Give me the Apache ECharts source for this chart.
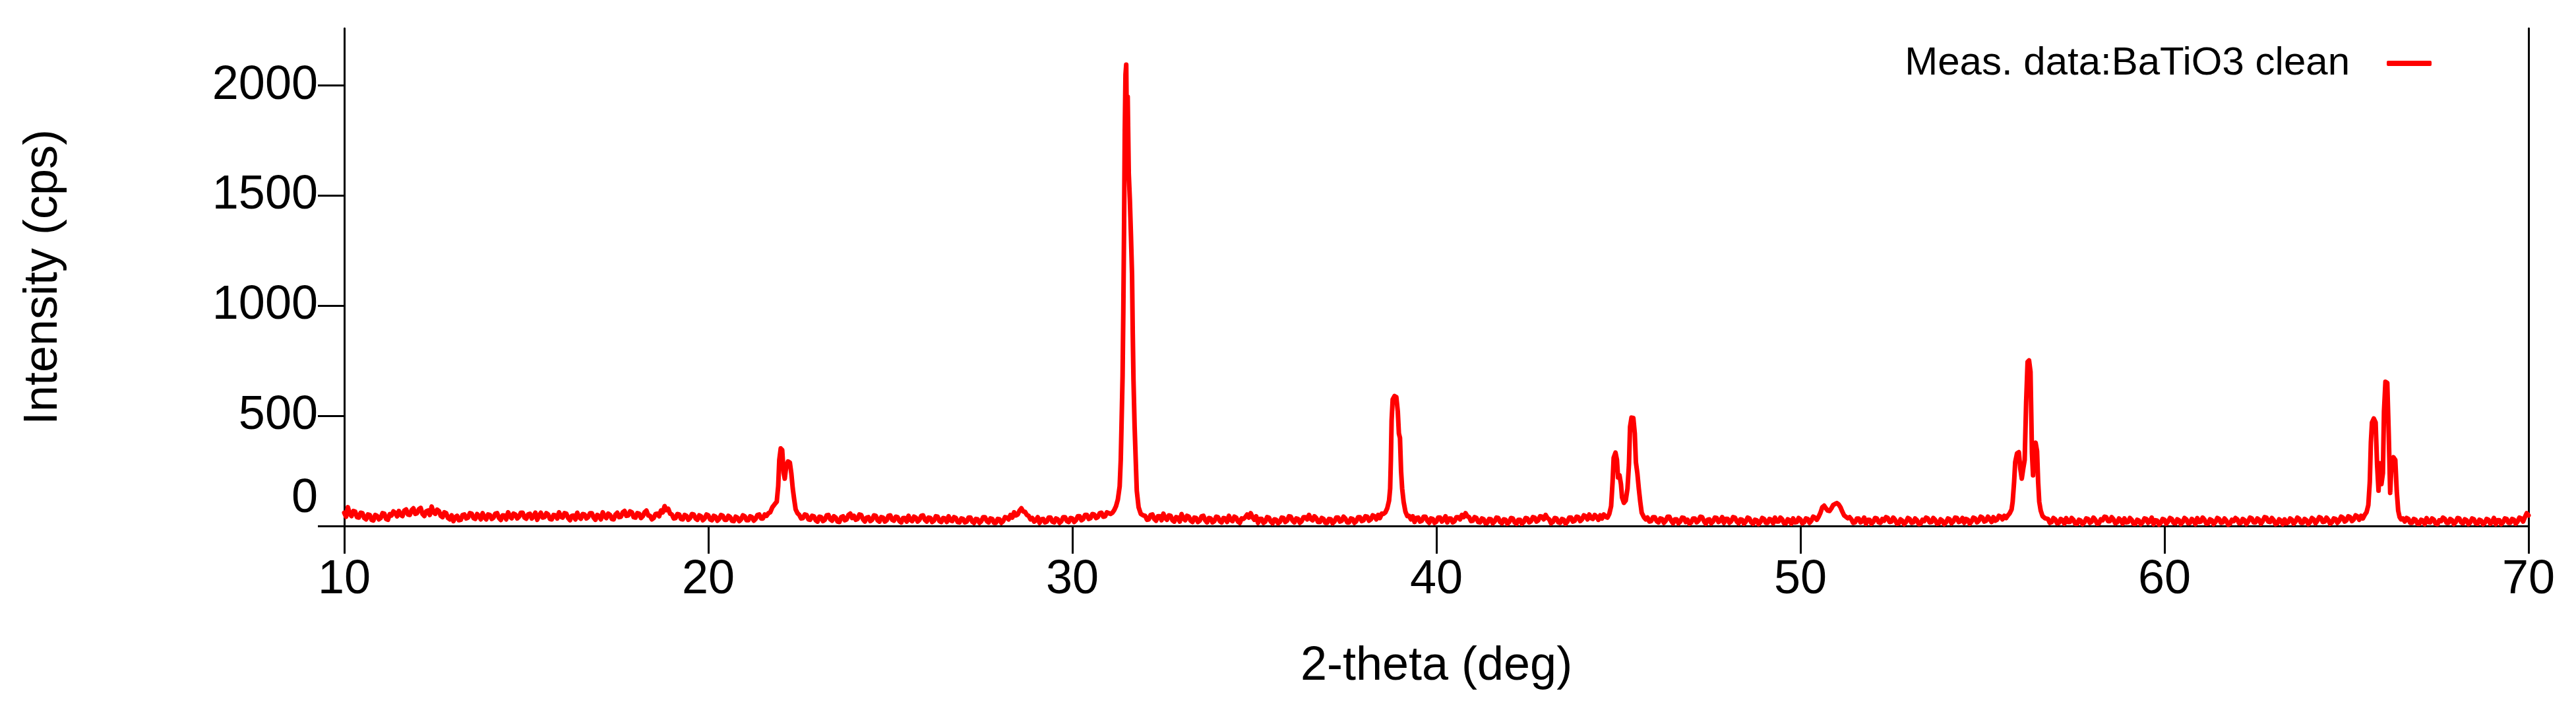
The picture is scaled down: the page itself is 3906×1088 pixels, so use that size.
<!DOCTYPE html>
<html>
<head>
<meta charset="utf-8">
<script src="https://cdn.jsdelivr.net/npm/echarts@6/dist/echarts.min.js"></script>
<style>
html,body{margin:0;padding:0;background:#fff;}
#chart{width:3906px;height:1088px;}
</style>
</head>
<body>
<div id="chart"></div>
<script>
// ---- Data: [2-theta (deg), intensity (cps)] ----
const seriesName = 'Meas. data:BaTiO3 clean';
const xTicks = [10, 20, 30, 40, 50, 60, 70];
const yTicks = [0, 500, 1000, 1500, 2000];

const base10to21 = [
[10.0,60],[10.05,42],[10.1,85],[10.15,55],[10.2,45],[10.25,68],[10.3,65],[10.35,40],[10.4,38],[10.45,60],
[10.5,58],[10.55,36],[10.6,30],[10.65,52],[10.7,50],[10.75,28],[10.8,25],[10.85,50],[10.9,46],[10.95,30],
[11.0,36],[11.05,58],[11.1,56],[11.15,32],[11.2,28],[11.25,54],[11.3,48],[11.35,66],[11.4,60],[11.45,44],
[11.5,68],[11.55,50],[11.6,45],[11.65,70],[11.7,75],[11.75,52],[11.8,50],[11.85,72],[11.9,80],[11.95,55],
[12.0,58],[12.05,76],[12.1,82],[12.15,54],[12.2,45],[12.25,66],[12.3,70],[12.35,50],[12.4,88],[12.45,62],
[12.5,55],[12.55,74],[12.6,68],[12.65,46],[12.7,40],[12.75,62],[12.8,58],[12.85,36],[12.9,30],[12.95,48],
[13.0,22],[13.05,40],[13.1,46],[13.15,26],[13.2,28],[13.25,50],[13.3,52],[13.35,34],[13.4,38],[13.45,58],
[13.5,56],[13.55,36],[13.6,32],[13.65,54],[13.7,46],[13.75,30],[13.8,58],[13.85,40],[13.9,30],[13.95,52],
[14.0,50],[14.05,32],[14.1,38],[14.15,56],[14.2,58],[14.25,36],[14.3,27],[14.35,48],[14.4,47],[14.45,30],
[14.5,62],[14.55,44],[14.6,35],[14.65,56],[14.7,52],[14.75,34],[14.8,42],[14.85,60],[14.9,60],[14.95,38],
[15.0,33],[15.05,52],[15.1,55],[15.15,34],[15.2,44],[15.25,60],[15.3,28],[15.35,46],[15.4,60],[15.45,38],
[15.5,40],[15.55,58],[15.6,52],[15.65,32],[15.7,30],[15.75,50],[15.8,48],[15.85,34],[15.9,62],[15.95,42],
[16.0,38],[16.05,58],[16.1,56],[16.15,36],[16.2,26],[16.25,46],[16.3,47],[16.35,30],[16.4,60],[16.45,40],
[16.5,33],[16.55,54],[16.6,52],[16.65,34],[16.7,40],[16.75,58],[16.8,58],[16.85,38],[16.9,28],[16.95,50],
[17.0,45],[17.05,30],[17.1,62],[17.15,44],[17.2,36],[17.25,56],[17.3,50],[17.35,32],[17.4,30],[17.45,52],
[17.5,60],[17.55,40],[17.6,42],[17.65,62],[17.7,68],[17.75,46],[17.8,48],[17.85,66],[17.9,62],[17.95,40],
[18.0,38],[18.05,58],[18.1,56],[18.15,36],[18.2,44],[18.25,62],[18.3,70],[18.35,48],[18.4,46],[18.45,30],
[18.5,36],[18.55,54],[18.6,56],[18.65,44],[18.7,70],[18.75,62],[18.8,90],[18.85,72],[18.9,78],[18.95,56],
[19.0,52],[19.05,34],[19.1,36],[19.15,54],[19.2,52],[19.25,32],[19.3,30],[19.35,50],[19.4,46],[19.45,28],
[19.5,36],[19.55,54],[19.6,52],[19.65,34],[19.7,28],[19.75,48],[19.8,44],[19.85,26],[19.9,34],[19.95,52],
[20.0,48],[20.05,30],[20.1,26],[20.15,46],[20.2,42],[20.25,24],[20.3,32],[20.35,50],[20.4,46],[20.45,28],
[20.5,28],[20.55,46],[20.6,40],[20.65,24],[20.7,22],[20.75,42],[20.8,38],[20.85,22],[20.9,30],[20.95,48],
[21.0,44],[21.05,26],[21.1,26],[21.15,44],[21.2,40],[21.25,24],[21.3,32],[21.35,50],[21.4,52],[21.45,34],
[21.5,34],[21.55,52],[21.6,46],[21.65,58]
];
const peak22 = [
[21.7,62],[21.76,85],[21.82,98],[21.88,110],[21.92,180],[21.95,300],[21.99,352],[22.03,345],[22.07,240],
[22.1,215],[22.14,270],[22.19,293],[22.24,288],[22.28,240],[22.32,170],[22.36,120],[22.4,75],[22.45,58],[22.5,50]
];
const base22to31 = [
[22.55,34],[22.6,36],[22.65,52],[22.7,50],[22.75,30],[22.8,28],[22.85,46],[22.9,44],[22.95,26],
[23.0,20],[23.05,42],[23.1,40],[23.15,22],[23.2,28],[23.25,48],[23.3,50],[23.35,30],[23.4,24],[23.45,44],
[23.5,38],[23.55,20],[23.6,18],[23.65,40],[23.7,44],[23.75,26],[23.8,30],[23.85,50],[23.9,56],[23.95,36],
[24.0,46],[24.05,28],[24.1,32],[24.15,52],[24.2,50],[24.25,30],[24.3,20],[24.35,38],[24.4,40],[24.45,22],
[24.5,28],[24.55,48],[24.6,46],[24.65,26],[24.7,20],[24.75,40],[24.8,38],[24.85,20],[24.9,26],[24.95,46],
[25.0,48],[25.05,28],[25.1,24],[25.15,42],[25.2,40],[25.25,22],[25.3,16],[25.35,36],[25.4,36],[25.45,20],
[25.5,46],[25.55,28],[25.6,22],[25.65,42],[25.7,38],[25.75,20],[25.8,28],[25.85,46],[25.9,48],[25.95,28],
[26.0,20],[26.05,38],[26.1,36],[26.15,18],[26.2,24],[26.25,44],[26.3,42],[26.35,22],[26.4,18],[26.45,36],
[26.5,34],[26.55,18],[26.6,44],[26.65,26],[26.7,22],[26.75,40],[26.8,36],[26.85,18],[26.9,16],[26.95,34],
[27.0,32],[27.05,16],[27.1,20],[27.15,38],[27.2,38],[27.25,20],[27.3,14],[27.35,32],[27.4,30],[27.45,14],
[27.5,22],[27.55,40],[27.6,40],[27.65,22],[27.7,16],[27.75,34],[27.8,32],[27.85,14],[27.9,14],[27.95,32],
[28.0,30],[28.05,14],[28.1,22],[28.15,40],[28.2,38],[28.25,30],[28.3,50],[28.35,38],[28.4,62],[28.45,48],
[28.5,52],[28.55,70],[28.6,80],[28.65,66],[28.7,64],[28.75,50],[28.8,46],[28.85,30],[28.9,36],[28.95,20],
[29.0,26],[29.05,40],[29.1,14],[29.15,30],[29.2,32],[29.25,16],[29.3,20],[29.35,38],[29.4,38],[29.45,20],
[29.5,16],[29.55,34],[29.6,30],[29.65,14],[29.7,22],[29.75,40],[29.8,40],[29.85,22],[29.9,18],[29.95,36],
[30.0,34],[30.05,18],[30.1,26],[30.15,44],[30.2,44],[30.25,26],[30.3,32],[30.35,50],[30.4,50],[30.45,32],
[30.5,36],[30.55,54],[30.6,52],[30.65,36],[30.7,40],[30.75,58],[30.8,60],[30.85,42],[30.9,44],[30.95,62],
[31.0,58]
];
const peak31 = [
[31.05,55],[31.1,60],[31.15,72],[31.2,90],[31.25,120],[31.3,180],[31.33,300],[31.35,450],[31.38,680],
[31.4,970],[31.42,1340],[31.44,1790],[31.46,2050],[31.48,2095],[31.5,1750],[31.52,1950],[31.55,1600],
[31.58,1480],[31.61,1320],[31.64,1140],[31.66,870],[31.68,660],[31.71,455],[31.74,305],[31.77,160],
[31.82,85],[31.88,55],[31.95,48]
];
const base32to38 = [
[32.0,46],[32.05,28],[32.1,30],[32.15,50],[32.2,52],[32.25,32],[32.3,24],[32.35,44],[32.4,44],[32.45,26],
[32.5,56],[32.55,36],[32.6,28],[32.65,48],[32.7,46],[32.75,26],[32.8,20],[32.85,40],[32.9,38],[32.95,20],
[33.0,54],[33.05,34],[33.1,26],[33.15,46],[33.2,42],[33.25,24],[33.3,18],[33.35,38],[33.4,36],[33.45,18],
[33.5,24],[33.55,44],[33.6,46],[33.65,26],[33.7,16],[33.75,36],[33.8,34],[33.85,16],[33.9,22],[33.95,42],
[34.0,40],[34.05,22],[34.1,16],[34.15,36],[34.2,34],[34.25,18],[34.3,46],[34.35,28],[34.4,22],[34.45,42],
[34.5,38],[34.55,20],[34.6,14],[34.65,34],[34.7,32],[34.75,40],[34.8,52],[34.85,38],[34.9,58],[34.95,40],
[35.0,28],[35.05,44],[35.1,14],[35.15,32],[35.2,32],[35.25,14],[35.3,20],[35.35,40],[35.4,38],[35.45,20],
[35.5,12],[35.55,30],[35.6,28],[35.65,12],[35.7,18],[35.75,38],[35.8,36],[35.85,18],[35.9,24],[35.95,44],
[36.0,42],[36.05,24],[36.1,16],[36.15,34],[36.2,32],[36.25,14],[36.3,22],[36.35,40],[36.4,40],[36.45,30],
[36.5,50],[36.55,32],[36.6,26],[36.65,44],[36.7,36],[36.75,18],[36.8,18],[36.85,36],[36.9,32],[36.95,14],
[37.0,14],[37.05,32],[37.1,30],[37.15,12],[37.2,20],[37.25,38],[37.3,38],[37.35,20],[37.4,24],[37.45,42],
[37.5,34],[37.55,16],[37.6,16],[37.65,34],[37.7,32],[37.75,14],[37.8,22],[37.85,40],[37.9,40],[37.95,22],
[38.0,26],[38.05,44],[38.1,42],[38.15,24],[38.2,30],[38.25,48],[38.3,44],[38.35,30],[38.4,50],[38.45,36],
[38.5,56]
];
const peak39 = [
[38.55,55],[38.6,62],[38.65,80],[38.7,115],[38.73,170],[38.75,300],[38.77,480],[38.8,575],[38.85,590],
[38.9,585],[38.94,520],[38.97,420],[39.0,400],[39.03,250],[39.06,170],[39.1,110],[39.15,65],[39.2,45]
];
const base39to44 = [
[39.25,46],[39.3,30],[39.35,44],[39.4,18],[39.45,36],[39.5,38],[39.55,20],[39.6,24],[39.65,42],[39.7,42],
[39.75,24],[39.8,14],[39.85,34],[39.9,32],[39.95,14],
[40.0,20],[40.05,38],[40.1,38],[40.15,20],[40.2,28],[40.25,44],[40.3,16],[40.35,34],[40.4,34],[40.45,16],
[40.5,22],[40.55,40],[40.6,40],[40.65,30],[40.7,50],[40.75,40],[40.8,58],[40.85,44],[40.9,40],[40.95,22],
[41.0,24],[41.05,40],[41.1,36],[41.15,18],[41.2,16],[41.25,34],[41.3,30],[41.35,12],[41.4,14],[41.45,32],
[41.5,30],[41.55,12],[41.6,20],[41.65,38],[41.7,36],[41.75,18],[41.8,12],[41.85,30],[41.9,28],[41.95,10],
[42.0,18],[42.05,36],[42.1,34],[42.15,16],[42.2,10],[42.25,28],[42.3,28],[42.35,10],[42.4,18],[42.45,36],
[42.5,34],[42.55,16],[42.6,22],[42.65,40],[42.7,38],[42.75,20],[42.8,26],[42.85,44],[42.9,42],[42.95,30],
[43.0,50],[43.05,36],[43.1,30],[43.15,12],[43.2,18],[43.25,36],[43.3,34],[43.35,16],[43.4,14],[43.45,32],
[43.5,28],[43.55,10],[43.6,20],[43.65,38],[43.7,38],[43.75,20],[43.8,24],[43.85,42],[43.9,40],[43.95,22],
[44.0,30],[44.05,48],[44.1,44],[44.15,30],[44.2,52],[44.25,36],[44.3,32],[44.35,50],[44.4,42],[44.45,28],
[44.5,48],[44.55,34],[44.6,52]
];
const peak45 = [
[44.65,42],[44.7,38],[44.75,55],[44.8,90],[44.84,200],[44.87,310],[44.92,333],[44.96,300],[44.99,220],
[45.03,230],[45.07,190],[45.1,130],[45.15,105],[45.2,115],[45.25,170],[45.29,280],[45.32,450],[45.36,492],
[45.41,490],[45.45,420],[45.48,290],[45.52,240],[45.56,170],[45.6,110],[45.64,60],[45.7,40]
];
const base46to50 = [
[45.75,30],[45.8,38],[45.85,20],[45.9,22],[45.95,40],[46.0,40],[46.05,22],[46.1,16],[46.15,34],[46.2,32],
[46.25,14],[46.3,24],[46.35,42],[46.4,42],[46.45,24],[46.5,12],[46.55,30],[46.6,30],[46.65,12],[46.7,20],
[46.75,38],[46.8,36],[46.85,18],[46.9,28],[46.95,10],
[47.0,16],[47.05,34],[47.1,34],[47.15,16],[47.2,24],[47.25,42],[47.3,40],[47.35,22],[47.4,10],[47.45,28],
[47.5,30],[47.55,12],[47.6,20],[47.65,38],[47.7,36],[47.75,18],[47.8,24],[47.85,40],[47.9,14],[47.95,32],
[48.0,32],[48.05,14],[48.1,22],[48.15,40],[48.2,38],[48.25,20],[48.3,12],[48.35,30],[48.4,28],[48.45,10],
[48.5,20],[48.55,38],[48.6,34],[48.65,16],[48.7,10],[48.75,28],[48.8,26],[48.85,8],[48.9,18],[48.95,36],
[49.0,32],[49.05,14],[49.1,14],[49.15,32],[49.2,28],[49.25,12],[49.3,38],[49.35,20],[49.4,20],[49.45,38],
[49.5,30],[49.55,12],[49.6,12],[49.65,30],[49.7,26],[49.75,10],[49.8,34],[49.85,16],[49.9,18],[49.95,36],
[50.0,30],[50.05,12],[50.1,16],[50.15,34],[50.2,32],[50.25,14],[50.3,24],[50.35,42],[50.4,38],[50.45,28]
];
const peak51 = [
[50.5,42],[50.55,60],[50.6,85],[50.65,92],[50.7,80],[50.75,70],[50.8,68],[50.85,80],[50.9,95],
[50.95,100],[51.0,104],[51.05,98],[51.1,85],[51.15,65],[51.2,48],[51.3,35]
];
const base51to55 = [
[51.35,40],[51.4,30],[51.45,14],[51.5,16],[51.55,34],[51.6,34],[51.65,16],[51.7,22],[51.75,38],[51.8,10],
[51.85,28],[51.9,28],[51.95,10],
[52.0,18],[52.05,36],[52.1,34],[52.15,16],[52.2,14],[52.25,32],[52.3,24],[52.35,40],[52.4,36],[52.45,18],
[52.5,20],[52.55,38],[52.6,28],[52.65,10],[52.7,12],[52.75,30],[52.8,24],[52.85,8],[52.9,18],[52.95,36],
[53.0,32],[53.05,14],[53.1,16],[53.15,34],[53.2,26],[53.25,8],[53.3,10],[53.35,28],[53.4,22],[53.45,38],
[53.5,34],[53.55,16],[53.6,18],[53.65,36],[53.7,28],[53.75,10],[53.8,12],[53.85,30],[53.9,24],[53.95,8],
[54.0,16],[54.05,34],[54.1,30],[54.15,12],[54.2,20],[54.25,38],[54.3,36],[54.35,18],[54.4,22],[54.45,36],
[54.5,14],[54.55,32],[54.6,28],[54.65,10],[54.7,20],[54.75,38],[54.8,34],[54.85,16],[54.9,24],[54.95,42],
[55.0,38],[55.05,20],[55.1,24],[55.15,42],[55.2,32],[55.25,18],[55.3,40],[55.35,24],[55.4,28],[55.45,46],
[55.5,42],[55.55,30],[55.6,46],[55.65,36]
];
const peak56 = [
[55.7,48],[55.75,58],[55.8,75],[55.83,110],[55.87,200],[55.9,290],[55.95,330],[56.0,335],[56.04,260],
[56.08,215],[56.12,260],[56.16,300],[56.2,560],[56.24,745],[56.28,752],[56.32,700],[56.36,330],[56.39,230],
[56.42,350],[56.46,378],[56.5,340],[56.53,200],[56.56,110],[56.6,70],[56.65,45],[56.72,35]
];
const base57to65 = [
[56.8,32],[56.85,14],[56.9,18],[56.95,36],[57.0,30],[57.05,12],[57.1,14],[57.15,32],[57.2,26],[57.25,10],
[57.3,36],[57.35,18],[57.4,18],[57.45,36],[57.5,28],[57.55,10],[57.6,10],[57.65,28],[57.7,24],[57.75,8],
[57.8,16],[57.85,34],[57.9,32],[57.95,14],
[58.0,20],[58.05,38],[58.1,28],[58.15,10],[58.2,12],[58.25,30],[58.3,26],[58.35,42],[58.4,40],[58.45,22],
[58.5,22],[58.55,40],[58.6,30],[58.65,12],[58.7,16],[58.75,34],[58.8,26],[58.85,10],[58.9,34],[58.95,16],
[59.0,18],[59.05,36],[59.1,28],[59.15,10],[59.2,10],[59.25,28],[59.3,24],[59.35,8],[59.4,16],[59.45,34],
[59.5,32],[59.55,14],[59.6,22],[59.65,38],[59.7,8],[59.75,26],[59.8,24],[59.85,6],[59.9,14],[59.95,32],
[60.0,28],[60.05,10],[60.1,20],[60.15,36],[60.2,32],[60.25,14],[60.3,12],[60.35,30],[60.4,26],[60.45,8],
[60.5,18],[60.55,36],[60.6,30],[60.65,12],[60.7,14],[60.75,32],[60.8,24],[60.85,8],[60.9,36],[60.95,18],
[61.0,20],[61.05,38],[61.1,28],[61.15,10],[61.2,12],[61.25,30],[61.3,26],[61.35,8],[61.4,18],[61.45,36],
[61.5,32],[61.55,14],[61.6,16],[61.65,34],[61.7,24],[61.75,6],[61.8,10],[61.85,28],[61.9,22],[61.95,36],
[62.0,30],[62.05,12],[62.1,14],[62.15,32],[62.2,26],[62.25,8],[62.3,20],[62.35,38],[62.4,34],[62.45,16],
[62.5,16],[62.55,34],[62.6,28],[62.65,10],[62.7,22],[62.75,40],[62.8,38],[62.85,20],[62.9,18],[62.95,36],
[63.0,26],[63.05,8],[63.1,12],[63.15,30],[63.2,24],[63.25,8],[63.3,30],[63.35,12],[63.4,16],[63.45,34],
[63.5,28],[63.55,10],[63.6,20],[63.65,38],[63.7,32],[63.75,14],[63.8,14],[63.85,32],[63.9,26],[63.95,8],
[64.0,18],[64.05,36],[64.1,30],[64.15,12],[64.2,24],[64.25,40],[64.3,36],[64.35,18],[64.4,20],[64.45,38],
[64.5,28],[64.55,10],[64.6,16],[64.65,34],[64.7,32],[64.75,14],[64.8,24],[64.85,42],[64.9,38],[64.95,20],
[65.0,26],[65.05,44],[65.1,40],[65.15,22],[65.2,30],[65.25,48],[65.3,44],[65.35,28],[65.4,46],[65.45,34]
];
const peak66 = [
[65.5,50],[65.55,62],[65.6,95],[65.64,200],[65.67,380],[65.7,470],[65.75,488],[65.8,470],[65.84,280],
[65.88,160],[65.92,285],[65.96,190],[66.0,240],[66.03,520],[66.07,655],[66.12,650],[66.16,420],[66.2,150],
[66.24,290],[66.29,312],[66.34,300],[66.38,160],[66.42,70],[66.46,40],[66.5,30]
];
const base67to70 = [
[66.55,34],[66.6,20],[66.65,36],[66.7,32],[66.75,14],[66.8,14],[66.85,32],[66.9,28],[66.95,10],
[67.0,10],[67.05,28],[67.1,24],[67.15,8],[67.2,36],[67.25,18],[67.3,16],[67.35,34],[67.4,28],[67.45,10],
[67.5,8],[67.55,26],[67.6,22],[67.65,38],[67.7,32],[67.75,14],[67.8,14],[67.85,32],[67.9,26],[67.95,8],
[68.0,18],[68.05,36],[68.1,34],[68.15,16],[68.2,12],[68.25,30],[68.3,26],[68.35,8],[68.4,16],[68.45,34],
[68.5,30],[68.55,12],[68.6,10],[68.65,28],[68.7,24],[68.75,8],[68.8,14],[68.85,32],[68.9,28],[68.95,10],
[69.0,18],[69.05,36],[69.1,8],[69.15,26],[69.2,26],[69.25,8],[69.3,16],[69.35,34],[69.4,32],[69.45,14],
[69.5,14],[69.55,32],[69.6,28],[69.65,10],[69.7,20],[69.75,38],[69.8,34],[69.85,20],[69.9,40],[69.95,58],
[70.0,48]
];

const segments = [base10to21, peak22, base22to31, peak31, base32to38, peak39, base39to44,
  peak45, base46to50, peak51, base51to55, peak56, base57to65, peak66, base67to70];
const pattern = [].concat(...segments);

const FONT = '"Liberation Sans", Arial, Helvetica, sans-serif';
const chart = echarts.init(document.getElementById('chart'), null, {renderer: 'canvas'});

const option = {
  animation: false,
  backgroundColor: '#ffffff',
  grid: {left: 522, right: 72, top: 43, bottom: 291, containLabel: false},
  legend: {
    show: true,
    right: 219,
    top: 66,
    padding: 0,
    align: 'right',
    itemWidth: 68,
    itemHeight: 8,
    icon: 'roundRect',
    selectedMode: false,
    textStyle: {fontSize: 60, color: '#000', fontFamily: FONT, padding: [0, 51, 0, 0]},
    data: [seriesName]
  },
  xAxis: {
    type: 'value',
    min: xTicks[0],
    max: xTicks[xTicks.length - 1],
    interval: 10,
    name: '2-theta (deg)',
    nameLocation: 'middle',
    nameGap: 177,
    nameTextStyle: {fontSize: 72, color: '#000', fontFamily: FONT},
    axisLine: {show: true, onZero: false, lineStyle: {color: '#000', width: 3}},
    axisTick: {show: true, inside: false, length: 42, lineStyle: {color: '#000', width: 3}},
    axisLabel: {fontSize: 72, color: '#000', fontFamily: FONT, margin: 46},
    splitLine: {show: false}
  },
  yAxis: [{
    type: 'value',
    min: 0,
    max: 2260,
    position: 'left',
    name: 'Intensity (cps)',
    nameLocation: 'middle',
    nameGap: 420,
    nameTextStyle: {fontSize: 72, color: '#000', fontFamily: FONT},
    axisLine: {show: true, onZero: false, lineStyle: {color: '#000', width: 3}},
    axisTick: {show: true, inside: false, length: 40, customValues: yTicks, lineStyle: {color: '#000', width: 3}},
    axisLabel: {
      fontSize: 72, color: '#000', fontFamily: FONT, margin: 40,
      customValues: yTicks,
      formatter: function (v) { return v === 0 ? '{zero|0}' : String(v); },
      rich: {zero: {fontSize: 72, color: '#000', fontFamily: FONT, padding: [0, 0, 82, 0]}}
    },
    splitLine: {show: false}
  }, {
    type: 'value',
    min: 0,
    max: 2260,
    position: 'right',
    axisLine: {show: true, onZero: false, lineStyle: {color: '#000', width: 3}},
    axisTick: {show: false},
    axisLabel: {show: false},
    splitLine: {show: false}
  }],
  series: [{
    name: seriesName,
    type: 'line',
    data: pattern,
    showSymbol: false,
    symbol: 'none',
    sampling: null,
    clip: true,
    lineStyle: {color: '#ff0000', width: 7, join: 'round', cap: 'round'},
    itemStyle: {color: '#ff0000'}
  }]
};
chart.setOption(option);
</script>
</body>
</html>
